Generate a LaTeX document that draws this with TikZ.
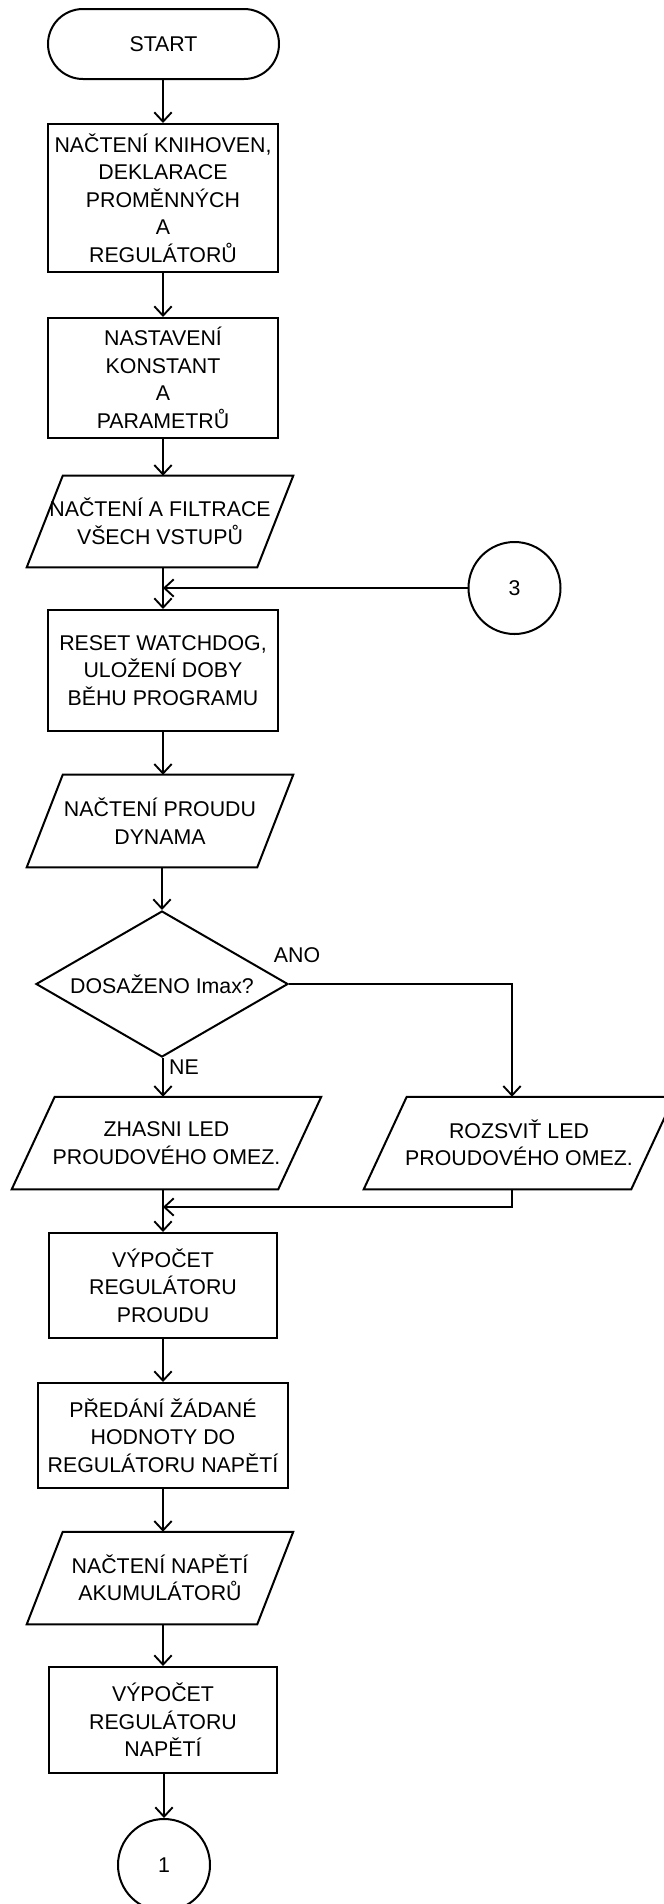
\documentclass[tikz,border=0pt]{standalone}
\usepackage{fontspec}
\setmainfont{Liberation Sans}
\usetikzlibrary{shapes.geometric,shapes.misc,arrows.meta,calc}

% outline of an input/output block drawn around a plain node
\newcommand{\ioframe}[2]{%
  \draw[shapeline] ($(#1.north west)+(#2,0)$) -- (#1.north east)
    -- ($(#1.south east)-(#2,0)$) -- (#1.south west) -- cycle;}

\begin{document}
\begin{tikzpicture}[x=0.75pt,y=-0.75pt,
  every node/.style={font=\fontsize{16}{20.6}\selectfont, align=center, inner sep=0pt},
  shapeline/.style={line width=1.5pt, line join=miter},
  procbox/.style={draw, shapeline, rectangle, minimum width=#1},
  iobox/.style={rectangle, minimum width=#1},
  termbox/.style={draw, shapeline, rounded rectangle, minimum width=173.25pt, minimum height=52.5pt},
  connbox/.style={draw, shapeline, circle, minimum size=69pt},
  decbox/.style={draw, shapeline, diamond, aspect=1.726, minimum width=189pt, minimum height=109.5pt},
  arr/.style={line width=1.4pt, -{Straight Barb[length=7pt,width=13pt,line width=1.4pt]}},
  link/.style={line width=1.4pt}
]
\fill[white] (0,0) rectangle (664,1904);
\clip (0,0) rectangle (664,1904);

% main column
\node[termbox] (start) at (163.5,44) {START};
\node[procbox=172.5pt, minimum height=111pt] (load) at (163,198)
  {NAČTENÍ KNIHOVEN,\\DEKLARACE\\PROMĚNNÝCH\\A\\REGULÁTORŮ};
\node[procbox=172.5pt, minimum height=90pt] (setup) at (163,378)
  {NASTAVENÍ\\KONSTANT\\A\\PARAMETRŮ};
\node[iobox=199.5pt, minimum height=68.25pt] (inputs) at (160,521.5)
  {NAČTENÍ A FILTRACE\\VŠECH VSTUPŮ};
\ioframe{inputs}{36}
\node[connbox] (c3) at (514.5,588) {3};
\coordinate (j1) at (163,588);
\node[procbox=172.5pt, minimum height=90.75pt] (reset) at (163,670.5)
  {RESET WATCHDOG,\\ULOŽENÍ DOBY\\BĚHU PROGRAMU};
\node[iobox=199.5pt, minimum height=69pt] (curr) at (160,821)
  {NAČTENÍ PROUDU\\DYNAMA};
\ioframe{curr}{36}
\node[decbox] (dec) at (162,984) {DOSAŽENO Imax?};
\node (ano) at (297,955) {ANO};
\node (ne) at (184,1067) {NE};
\node[iobox=231.75pt, minimum height=69pt] (off) at (166.5,1143)
  {ZHASNI LED\\PROUDOVÉHO OMEZ.};
\ioframe{off}{43}
\node[iobox=232.5pt, minimum height=69pt] (on) at (519,1143)
  {ROZSVIŤ LED\\PROUDOVÉHO OMEZ.};
\ioframe{on}{43}
\coordinate (j2) at (163,1207);
\node[procbox=171pt, minimum height=78.75pt] (regi) at (163,1285.5)
  {VÝPOČET\\REGULÁTORU\\PROUDU};
\node[procbox=187.5pt, minimum height=78.75pt] (pass) at (163,1435.5)
  {PŘEDÁNÍ ŽÁDANÉ\\HODNOTY DO\\REGULÁTORU NAPĚTÍ};
\node[iobox=199.5pt, minimum height=69pt] (volt) at (160,1578)
  {NAČTENÍ NAPĚTÍ\\AKUMULÁTORŮ};
\ioframe{volt}{36}
\node[procbox=171pt, minimum height=79.5pt] (regu) at (163,1720)
  {VÝPOČET\\REGULÁTORU\\NAPĚTÍ};
\node[connbox] (c1) at (164,1865) {1};

% connectors
\draw[arr] (start.south -| load.north) -- (load.north);
\draw[arr] (load) -- (setup);
\draw[arr] (setup.south) -- (setup.south |- inputs.north);
\draw[arr] (reset.north |- inputs.south) -- (reset.north);
\draw[arr] (c3.west) -- (j1);
\draw[arr] (reset.south) -- (reset.south |- curr.north);
\draw[arr] (dec.north |- curr.south) -- (dec.north);
\draw[arr] (j2 |- dec.south) -- (j2 |- off.north);
\draw[arr] (dec.east) -| ($(on.north)+(-7,0)$);
\draw[arr] ($(on.south)+(-7,0)$) |- (j2);
\draw[arr] (j2 |- off.south) -- (regi.north);
\draw[arr] (regi) -- (pass);
\draw[arr] (pass.south) -- (pass.south |- volt.north);
\draw[arr] (regu.north |- volt.south) -- (regu.north);
\draw[arr] (regu.south) -- (regu.south -| c1.north) -- (c1.north);
\end{tikzpicture}
\end{document}
